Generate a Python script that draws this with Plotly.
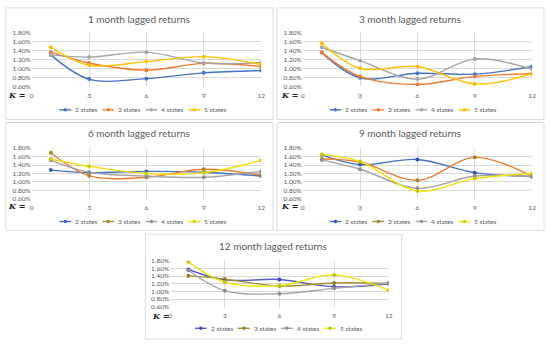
import plotly.graph_objects as go

W, H = 550, 346

K_VALUES = [1, 3, 6, 9, 12]
SERIES_NAMES = ["2 states", "3 states", "4 states", "5 states"]
PANEL_TITLES = ["1 month lagged returns", "3 month lagged returns", "6 month lagged returns",
                "9 month lagged returns", "12 month lagged returns"]
X_TICKS = [0, 3, 6, 9, 12]
Y_TICKS = [0.6, 0.8, 1.0, 1.2, 1.4, 1.6, 1.8]
Y_TICK_LABELS = ["0.60%", "0.80%", "1.00%", "1.20%", "1.40%", "1.60%", "1.80%"]

# values in percent
lag1_2 = [1.30, 0.76, 0.77, 0.90, 0.95]
lag1_3 = [1.36, 1.12, 0.96, 1.11, 1.04]
lag1_4 = [1.30, 1.25, 1.36, 1.12, 1.13]
lag1_5 = [1.47, 1.07, 1.15, 1.26, 1.09]

lag3_2 = [1.35, 0.79, 0.89, 0.87, 1.04]
lag3_3 = [1.35, 0.82, 0.64, 0.82, 0.88]
lag3_4 = [1.47, 1.17, 0.76, 1.21, 0.98]
lag3_5 = [1.56, 1.00, 1.04, 0.65, 0.88]

lag6_2 = [1.28, 1.22, 1.25, 1.23, 1.14]
lag6_3 = [1.69, 1.15, 1.11, 1.30, 1.16]
lag6_4 = [1.51, 1.23, 1.14, 1.11, 1.25]
lag6_5 = [1.54, 1.37, 1.20, 1.22, 1.51]

lag9_2 = [1.64, 1.41, 1.53, 1.22, 1.13]
lag9_3 = [1.54, 1.47, 1.04, 1.58, 1.13]
lag9_4 = [1.52, 1.30, 0.85, 1.14, 1.12]
lag9_5 = [1.65, 1.48, 0.79, 1.08, 1.20]

lag12_2 = [1.57, 1.30, 1.31, 1.12, 1.20]
lag12_3 = [1.41, 1.32, 1.14, 1.22, 1.21]
lag12_4 = [1.55, 1.02, 0.94, 1.08, 1.22]
lag12_5 = [1.77, 1.24, 1.15, 1.43, 1.03]

PANEL_DATA = [
    [lag1_2, lag1_3, lag1_4, lag1_5],
    [lag3_2, lag3_3, lag3_4, lag3_5],
    [lag6_2, lag6_3, lag6_4, lag6_5],
    [lag9_2, lag9_3, lag9_4, lag9_5],
    [lag12_2, lag12_3, lag12_4, lag12_5],
]

# (line color, marker color) per panel per series
COLORS = [
    [("#4472C4", "#4472C4"), ("#ED7D31", "#ED7D31"), ("#A5A5A5", "#A5A5A5"), ("#FFC000", "#FFC000")],
    [("#4472C4", "#4472C4"), ("#ED7D31", "#ED7D31"), ("#A5A5A5", "#A5A5A5"), ("#FFC000", "#FFC000")],
    [("#4472C4", "#3560B8"), ("#ED7D31", "#9E8A2C"), ("#A5A5A5", "#8F8F8F"), ("#F7DC00", "#D2D000")],
    [("#4472C4", "#2F55B0"), ("#ED7D31", "#9E8A2C"), ("#A5A5A5", "#8F8F8F"), ("#F2E200", "#C8CC00")],
    [("#5A5ACB", "#4646B8"), ("#A0902F", "#8E7F28"), ("#A5A5A5", "#8F8F8F"), ("#E8E800", "#C2C800")],
]
LEGEND_LINE = [
    ["#4472C4", "#ED7D31", "#A5A5A5", "#FFC000"],
    ["#4472C4", "#ED7D31", "#A5A5A5", "#FFC000"],
    ["#4472C4", "#A0902F", "#A5A5A5", "#F7DC00"],
    ["#4472C4", "#A0902F", "#A5A5A5", "#F2E200"],
    ["#5A5ACB", "#A0902F", "#A5A5A5", "#E8E800"],
]

# layout in pixels
PLOT_PX = [(30, 262, 29, 84), (304, 536, 29, 84), (30, 262, 147, 199),
           (304, 536, 147, 199), (170, 391, 262, 309)]
BOX_PX = [(4, 4, 274, 118), (278, 4, 548, 118), (4, 121, 274, 231),
          (278, 121, 548, 231), (145, 235, 404, 342)]
TITLE_PX = [(139, 15), (413, 15), (139, 132), (413, 132), (274, 247)]
K_PX = [(15, 93), (291, 93), (15, 206), (291, 206), (160, 318)]
LEG_PX = [(140, 108), (413, 108), (140, 222), (413, 222), (277, 331)]

FONT = "Lato, 'Open Sans', sans-serif"
TXT = "#595959"
GRID = "#D9D9D9"

def fx(px):
    return px / W

def fy(py):
    return 1 - py / H

fig = go.Figure()
shapes = []
annotations = []
layout = {}

for i in range(5):
    n = "" if i == 0 else str(i + 1)
    xa = "x" + n
    ya = "y" + n
    x0, x1, yt, yb = PLOT_PX[i]
    for s in range(4):
        lc, mc = COLORS[i][s]
        fig.add_trace(go.Scatter(
            x=K_VALUES, y=PANEL_DATA[i][s], name=SERIES_NAMES[s],
            mode="lines+markers",
            line=dict(color=lc, width=1.4, shape="spline", smoothing=1.0),
            marker=dict(color=mc, size=4),
            xaxis=xa, yaxis=ya, showlegend=False,
        ))
    layout["xaxis" + n] = dict(
        domain=[fx(x0), fx(x1)], anchor=ya, range=[0, 12], tickvals=X_TICKS,
        showgrid=True, gridcolor=GRID, gridwidth=1, zeroline=False,
        showline=False, ticks="", tickfont=dict(family=FONT, size=6.5, color=TXT),
        fixedrange=True, ticklabelstandoff=4,
    )
    layout["yaxis" + n] = dict(
        domain=[fy(yb), fy(yt)], anchor=xa, range=[0.6, 1.8], tickvals=Y_TICKS,
        ticktext=Y_TICK_LABELS, showgrid=True, gridcolor=GRID, gridwidth=1,
        zeroline=False, showline=False, ticks="",
        tickfont=dict(family=FONT, size=6.5, color=TXT), fixedrange=True,
    )
    bx0, by0, bx1, by1 = BOX_PX[i]
    shapes.append(dict(type="rect", xref="paper", yref="paper",
                       x0=fx(bx0), x1=fx(bx1), y0=fy(by1), y1=fy(by0),
                       line=dict(color=GRID, width=1), fillcolor="rgba(0,0,0,0)",
                       layer="below"))
    tx, ty = TITLE_PX[i]
    annotations.append(dict(text=PANEL_TITLES[i], xref="paper", yref="paper",
                            x=fx(tx), y=fy(ty), xanchor="center", yanchor="middle",
                            showarrow=False, font=dict(family=FONT, size=10, color=TXT)))
    kx, ky = K_PX[i]
    annotations.append(dict(text="<b><i>K</i> =</b>", xref="paper", yref="paper",
                            x=fx(kx), y=fy(ky), xanchor="center", yanchor="middle",
                            showarrow=False,
                            font=dict(family="'DejaVu Serif', serif", size=8, color="#222222")))
    # compact legend (swatch + label)
    lx, ly = LEG_PX[i]
    for s in range(4):
        st = lx - 82 + s * 43.5
        col = LEGEND_LINE[i][s]
        mcol = COLORS[i][s][1]
        shapes.append(dict(type="line", xref="paper", yref="paper",
                           x0=fx(st), x1=fx(st + 12), y0=fy(ly), y1=fy(ly),
                           line=dict(color=col, width=1.4)))
        shapes.append(dict(type="circle", xref="paper", yref="paper",
                           x0=fx(st + 4.5), x1=fx(st + 7.5), y0=fy(ly + 1.5), y1=fy(ly - 1.5),
                           line=dict(color=mcol, width=0.5), fillcolor=mcol))
        annotations.append(dict(text=SERIES_NAMES[s], xref="paper", yref="paper",
                                x=fx(st + 14), y=fy(ly), xanchor="left", yanchor="middle",
                                showarrow=False,
                                font=dict(family=FONT, size=6.5, color=TXT)))

fig.update_layout(
    width=W, height=H, margin=dict(l=0, r=0, t=0, b=0),
    paper_bgcolor="white", plot_bgcolor="white", showlegend=False,
    shapes=shapes, annotations=annotations, **layout,
)

fig.write_html("out.html", config={"displayModeBar": False},
               post_script="document.body.style.margin='0';document.body.style.overflow='hidden';")
